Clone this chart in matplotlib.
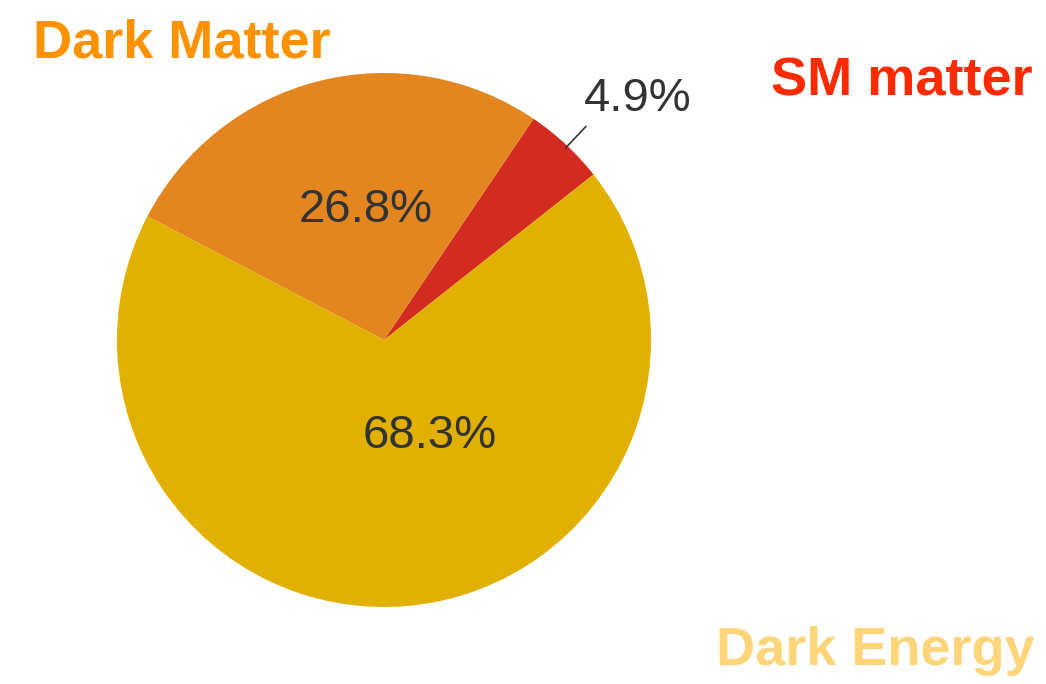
import numpy as np
import matplotlib.pyplot as plt

# 数据
labels = ['SM matter', 'Dark Matter', 'Dark Energy']
shares = [4.9, 26.8, 68.3]
slice_colors = ['#D22B20', '#E3861F', '#E2B000']
title_colors = ['#FF2A00', '#FF9200', '#FFD57A']

W, H = 1046, 684
fig = plt.figure(figsize=(W / 100, H / 100), dpi=100)
ax = fig.add_axes([0, 0, 1, 1])

cx, cy, R = 384, H - 340, 267
start = 38.3

wedges, _, autotexts = ax.pie(
    shares, colors=slice_colors, startangle=start, counterclock=True,
    center=(cx, cy), radius=R, autopct='%1.1f%%', frame=True,
    wedgeprops=dict(linewidth=0),
    textprops=dict(family='Liberation Sans', fontsize=34, color='#333333'),
)

# 百分比标签位置 (相对半径, 角度)
label_pos = [(1.31, 43.5), (0.49, 98), (0.40, -64.6)]
for t, (r, a) in zip(autotexts, label_pos):
    t.set_position((cx + r * R * np.cos(np.radians(a)), cy + r * R * np.sin(np.radians(a))))
    t.set_ha('center')
    t.set_va('center')

# 小扇形的引线
a = np.radians(46.6)
ax.plot([cx + 0.99 * R * np.cos(a), cx + 1.10 * R * np.cos(a)],
        [cy + 0.99 * R * np.sin(a), cy + 1.10 * R * np.sin(a)],
        color='#333333', lw=1.2)

# 标题文字
title_pos = [(1033, 95, 'right'), (33, 58, 'left'), (1035, 665, 'right')]
for name, col, (x, y, ha) in zip(labels, title_colors, title_pos):
    ax.text(x, H - y, name, color=col, fontsize=39, fontweight='bold',
            family='Liberation Sans', ha=ha, va='baseline')

ax.set_xlim(0, W)
ax.set_ylim(0, H)
ax.set_aspect('equal')
ax.axis('off')

fig.savefig('out.png', dpi=100)
